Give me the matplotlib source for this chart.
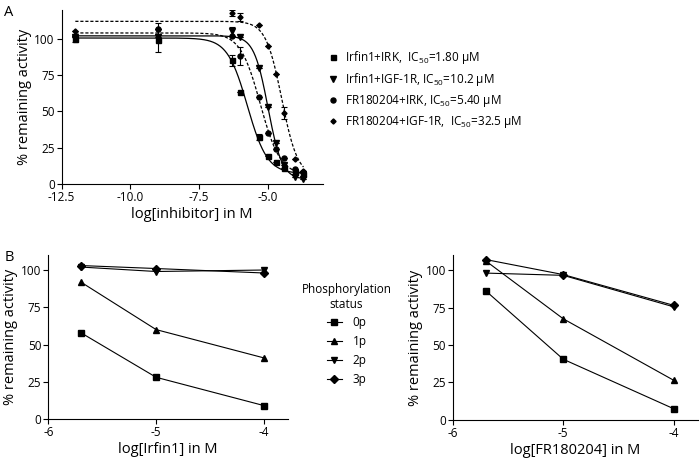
import matplotlib.pyplot as plt
import numpy as np

plt.rcParams['font.family'] = ['Open Sans', 'DejaVu Sans']
plt.rcParams['mathtext.fontset'] = 'custom'
plt.rcParams['mathtext.rm'] = 'Open Sans'
plt.rcParams['mathtext.it'] = 'Open Sans'
plt.rcParams['axes.linewidth'] = 0.8
plt.rcParams['axes.unicode_minus'] = False

# Panel A: dose-response data (log M)
logc = [-12, -9, -6.3, -6.0, -5.3, -5.0, -4.7, -4.4, -4.0, -3.7]
irk_irfin = [100, 99, 85, 63, 32, 19, 15, 11, 8, 7]
igf_irfin = [101, 101, 105, 101, 80, 53, 28, 13, 5, 3]
irk_fr = [102, 107, 102, 88, 60, 35, 24, 18, 10, 8]
igf_fr = [105, 107, 117.5, 115, 109.5, 95, 76, 49, 17, 9]
err_irk_irfin = [2, 8, 4, 0, 2, 0, 0, 0, 2, 2]
err_igf_irfin = [0, 0, 3, 0, 0, 0, 0, 0, 0, 0]
err_irk_fr = [0, 4, 0, 6, 0, 0, 0, 0, 0, 0]
err_igf_fr = [0, 0, 2, 3, 0, 0, 0, 4, 0, 0]

# fit parameters (top, bottom, logIC50, hill)
fit_irk_irfin = (100.5, 7, -5.74, 1.2)
fit_igf_irfin = (102, 3, -4.99, 1.7)
fit_irk_fr = (104, 6, -5.27, 1.2)
fit_igf_fr = (112, 5, -4.49, 1.5)

labels_a = ['Irfin1+IRK,  IC$_{50}$=1.80 \u00b5M',
            'Irfin1+IGF-1R, IC$_{50}$=10.2 \u00b5M',
            'FR180204+IRK, IC$_{50}$=5.40 \u00b5M',
            'FR180204+IGF-1R,  IC$_{50}$=32.5 \u00b5M']

# Panel B: phosphorylation status
logc_b = [-5.7, -5.0, -4.0]
irfin_0p = [58, 28, 9]
irfin_1p = [92, 60, 41]
irfin_2p = [102, 99, 100]
irfin_3p = [103, 101, 98]
fr_0p = [86, 40.5, 7.5]
fr_1p = [106, 67.5, 26.5]
fr_2p = [98, 96.5, 75.5]
fr_3p = [107, 97, 76.5]
status = ['0p', '1p', '2p', '3p']


def logistic(x, top, bottom, logic50, hill):
    return bottom + (top - bottom) / (1 + 10 ** ((x - logic50) * hill))


fig = plt.figure(figsize=(7, 4.63), dpi=100)

# ---- Panel A ----
axA = fig.add_axes([0.088, 0.603, 0.373, 0.376])
xs = np.linspace(-12, -3.7, 400)
series_a = [
    (irk_irfin, err_irk_irfin, fit_irk_irfin, 's', 3.6, '-'),
    (igf_irfin, err_igf_irfin, fit_igf_irfin, 'v', 3.8, '-'),
    (irk_fr, err_irk_fr, fit_irk_fr, 'o', 3.6, '--'),
    (igf_fr, err_igf_fr, fit_igf_fr, 'D', 2.6, '--'),
]
handles = []
for (y, e, fit, m, ms, ls), lab in zip(series_a, labels_a):
    axA.plot(xs, logistic(xs, *fit), color='black', lw=0.9, ls=ls,
             dashes=(2.5, 1.5) if ls == '--' else (None, None))
    axA.errorbar(logc, y, yerr=e, fmt=m, ms=ms, color='black',
                 elinewidth=0.8, capsize=2, capthick=0.8)
    h, = axA.plot([], [], m, ms=ms, color='black', label=lab)
    handles.append(h)

axA.set_xlim(-12.5, -3.0)
axA.set_ylim(0, 120)
axA.set_xticks([-12.5, -10.0, -7.5, -5.0])
axA.set_xticklabels(['-12.5', '-10.0', '-7.5', '-5.0'])
axA.set_yticks([0, 25, 50, 75, 100])
axA.set_xlabel('log[inhibitor] in M', fontsize=10.5, labelpad=2)
axA.set_ylabel('% remaining activity', fontsize=10.5, labelpad=2)
fig.legend(handles=handles, loc='upper left', bbox_to_anchor=(0.462, 0.904),
           frameon=False, fontsize=8.5, handlelength=0.8, handletextpad=0.6,
           labelspacing=0.42, borderaxespad=0)

# ---- Panel B ----
axB1 = fig.add_axes([0.069, 0.095, 0.342, 0.354])
axB2 = fig.add_axes([0.647, 0.093, 0.350, 0.356])
markers_b = [('s', 4.8), ('^', 4.8), ('v', 4.8), ('D', 4.3)]
for ax, data in [(axB1, [irfin_0p, irfin_1p, irfin_2p, irfin_3p]),
                 (axB2, [fr_0p, fr_1p, fr_2p, fr_3p])]:
    for y, (m, ms), lab in zip(data, markers_b, status):
        ax.plot(logc_b, y, marker=m, ms=ms, color='black', lw=0.8, label=lab)
    ax.set_xlim(-6, -3.78)
    ax.set_ylim(0, 110)
    ax.set_xticks([-6, -5, -4])
    ax.set_yticks([0, 25, 50, 75, 100])
    ax.set_ylabel('% remaining activity', fontsize=10.5, labelpad=2)

axB1.set_xlabel('log[Irfin1] in M', fontsize=10.5, labelpad=2)
axB2.set_xlabel('log[FR180204] in M', fontsize=10.5, labelpad=2)

h, l = axB1.get_legend_handles_labels()
leg = fig.legend(h, l, loc='upper center', bbox_to_anchor=(0.495, 0.4),
                 frameon=False, fontsize=8.5, title='Phosphorylation\nstatus',
                 title_fontsize=8.5, handlelength=1.3, handletextpad=0.9,
                 labelspacing=0.5, borderaxespad=0)
leg.get_title().set_multialignment('center')

for ax in [axA, axB1, axB2]:
    ax.spines['top'].set_visible(False)
    ax.spines['right'].set_visible(False)
    ax.tick_params(labelsize=8.5, length=3.5, width=0.8, pad=1.5)

fig.text(0.006, 0.99, 'A', fontsize=10.5, va='top')
fig.text(0.006, 0.46, 'B', fontsize=10.5, va='top')

fig.savefig('out.png', dpi=100)
